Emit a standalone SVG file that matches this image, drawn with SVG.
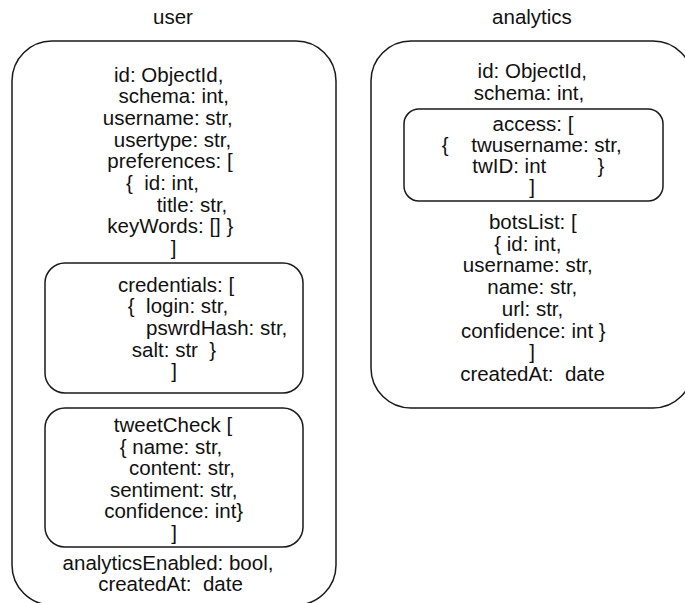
<svg xmlns="http://www.w3.org/2000/svg" width="685" height="603" viewBox="0 0 685 603">
<style>
.box{fill:#fff;stroke:#1a1a1a;stroke-width:1.5}
text{font-family:"Liberation Sans",Arial,Helvetica,sans-serif;font-size:20.5px;fill:#111;text-anchor:middle;white-space:pre}
</style>
<rect width="685" height="603" fill="#fff"/>
<g id="connectors"></g>
<g id="user">
<text x="173" y="24">user</text>
<rect class="box" x="12" y="41" width="324" height="564" rx="40" ry="40"/>
<text x="168.7" y="81.5">id: ObjectId,</text>
<text x="173.7" y="103.2">schema: int,</text>
<text x="167.7" y="124.9">username: str,</text>
<text x="172.5" y="146.6">usertype: str,</text>
<text x="170" y="168.3">preferences: [</text>
<text x="162.5" y="190">{  id: int,</text>
<text x="192" y="211.7">title: str,</text>
<text x="170.3" y="233.4">keyWords: [] }</text>
<text x="173.7" y="255.1">]</text>
<text x="168" y="570">analyticsEnabled: bool,</text>
<text x="170.5" y="591">createdAt:  date</text>
</g>
<g id="credentials">
<rect class="box" x="45" y="263" width="258" height="130" rx="20" ry="20"/>
<text x="176" y="291.5">credentials: [</text>
<text x="178" y="313.2">{  login: str,</text>
<text x="216.7" y="334.9">pswrdHash: str,</text>
<text x="174" y="356.6">salt: str  }</text>
<text x="174" y="378.3">]</text>
</g>
<g id="tweetCheck">
<rect class="box" x="45" y="408" width="258" height="139" rx="20" ry="20"/>
<text x="173" y="432">tweetCheck [</text>
<text x="171" y="453.5">{ name: str,</text>
<text x="182" y="475">content: str,</text>
<text x="173.7" y="496.5">sentiment: str,</text>
<text x="173.7" y="518">confidence: int}</text>
<text x="174" y="539.5">]</text>
</g>
<g id="analytics">
<text x="532" y="24">analytics</text>
<rect class="box" x="371" y="41" width="322" height="367" rx="40" ry="40"/>
<text x="532.3" y="78">id: ObjectId,</text>
<text x="529" y="99.5">schema: int,</text>
<text x="532.8" y="229">botsList: [</text>
<text x="527.8" y="250.7">{ id: int,</text>
<text x="527.8" y="272.4">username: str,</text>
<text x="532.3" y="294.1">name: str,</text>
<text x="532.5" y="315.8">url: str,</text>
<text x="533.3" y="337.5">confidence: int }</text>
<text x="532" y="359.2">]</text>
<text x="532.5" y="380.9">createdAt:  date</text>
</g>
<g id="access">
<rect class="box" x="404" y="109" width="259" height="92" rx="15" ry="15"/>
<text x="533" y="131">access: [</text>
<text x="531.7" y="152">{    twusername: str,</text>
<text x="538.3" y="173">twID: int         }</text>
<text x="532" y="194">]</text>
</g>
</svg>
